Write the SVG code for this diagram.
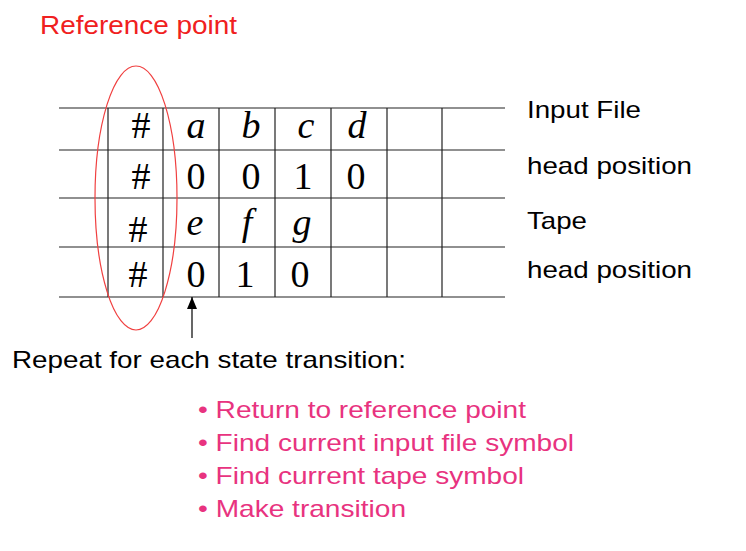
<svg xmlns="http://www.w3.org/2000/svg" width="746" height="551" viewBox="0 0 746 551">
<style>
.g{stroke:#222;stroke-width:1.2;fill:none}
.t{font-family:"Liberation Serif",serif;font-size:38px;fill:#000;text-anchor:middle}
.i{font-style:italic}
.s{font-family:"Liberation Sans",sans-serif;font-size:24px;fill:#000}
.p{font-family:"Liberation Sans",sans-serif;font-size:24px;fill:#e8337f}
</style>
<defs><marker id="ah" markerWidth="12" markerHeight="10" refX="12" refY="5" orient="auto" markerUnits="userSpaceOnUse" viewBox="0 0 12 10"><path d="M0,0 L12,5 L0,10 Z" fill="#000"/></marker></defs>
<rect width="746" height="551" fill="#fff"/>
<g id="grid" class="g">
<path d="M59,108H505M59,150H505M59,198H505M59,247H505M59,297H505"/>
<path d="M108,108V297M163,108V297M219,108V297M275,108V297M331,108V297M387,108V297M442,108V297"/>
</g>
<g id="cells">
<text class="t" x="141" y="138">#</text><text class="t i" x="196" y="138">a</text><text class="t i" x="251" y="138">b</text><text class="t i" x="306" y="138">c</text><text class="t i" x="357" y="138">d</text>
<text class="t" x="141" y="189">#</text><text class="t" x="196" y="189">0</text><text class="t" x="251" y="189">0</text><text class="t" x="303" y="189">1</text><text class="t" x="356" y="189">0</text>
<text class="t" x="138" y="242">#</text><text class="t i" x="195" y="235">e</text><text class="t i" x="247" y="235">f</text><text class="t i" x="302" y="235">g</text>
<text class="t" x="138" y="287">#</text><text class="t" x="196" y="287">0</text><text class="t" x="245" y="287">1</text><text class="t" x="300" y="287">0</text>
</g>
<g id="ellipse"><ellipse cx="136" cy="198" rx="41" ry="132" fill="none" stroke="#f04040" stroke-width="1.2"/></g>
<g id="connectors"><line x1="192" y1="338" x2="192" y2="297" stroke="#000" stroke-width="1.2" marker-end="url(#ah)"/></g>
<g id="labels">
<text x="40" y="34" font-family="Liberation Sans,sans-serif" font-size="25" fill="#f02020" textLength="197" lengthAdjust="spacingAndGlyphs">Reference point</text>
<text class="s" x="527" y="118" textLength="114" lengthAdjust="spacingAndGlyphs">Input File</text>
<text class="s" x="527" y="174" textLength="165" lengthAdjust="spacingAndGlyphs">head position</text>
<text class="s" x="527" y="229" textLength="60" lengthAdjust="spacingAndGlyphs">Tape</text>
<text class="s" x="527" y="278" textLength="165" lengthAdjust="spacingAndGlyphs">head position</text>
<text class="s" x="12" y="368" textLength="394" lengthAdjust="spacingAndGlyphs">Repeat for each state transition:</text>
<text class="p" x="198" y="418" textLength="328" lengthAdjust="spacingAndGlyphs">• Return to reference point</text>
<text class="p" x="198" y="451" textLength="376" lengthAdjust="spacingAndGlyphs">• Find current input file symbol</text>
<text class="p" x="198" y="484" textLength="326" lengthAdjust="spacingAndGlyphs">• Find current tape symbol</text>
<text class="p" x="198" y="517" textLength="208" lengthAdjust="spacingAndGlyphs">• Make transition</text>
</g>
</svg>
